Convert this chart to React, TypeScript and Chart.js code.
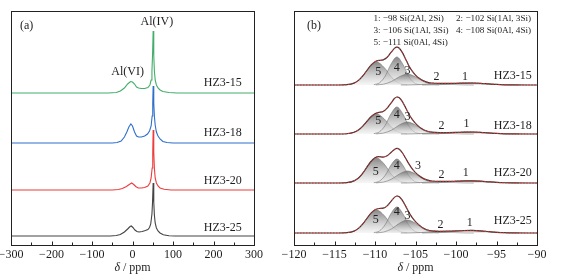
import React, { useEffect, useRef } from "react";
import { Chart, registerables } from "chart.js";
Chart.register(...registerables);

type P = [number, number];

const FONT = "'Liberation Serif', 'Times New Roman', serif";

// ---------- Panel (a): 27Al spectra ----------
const alSamples = ["HZ3-15", "HZ3-18", "HZ3-20", "HZ3-25"];
const alColors = ["#43ad69", "#2f6fcc", "#ec3d3d", "#444444"];
const alOffsets = [152, 102, 55, 9];
const alTickValues = [-300, -200, -100, 0, 100, 200, 300];

const alHZ3_15: P[] = [[-300,0],[-60,0],[-40,0.5],[-30,2],[-20,5],[-12,9],[-5,11.5],[0,11],[5,9],[10,6],[15,5],[22,4.5],[30,4.5],[38,5.5],[43,8],[46,13],[48,22],[49.5,38],[51,62],[52.5,38],[54,22],[56,13],[59,8],[63,5],[68,3],[75,1.5],[90,0.5],[110,0],[300,0]];
const alHZ3_18: P[] = [[-300,0],[-50,0],[-38,0.5],[-28,2],[-20,6],[-14,11],[-9,16],[-4,19],[0,17],[5,11],[10,7],[15,6],[22,6],[30,7],[37,9],[42,12],[46,17],[48.5,27],[50,40],[51,57],[52.5,40],[54,27],[56,18],[59,11],[63,7],[68,4],[75,1.5],[85,0.5],[100,0],[300,0]];
const alHZ3_20: P[] = [[-300,0],[-50,0],[-35,0.5],[-25,1.5],[-15,3.5],[-8,5.5],[-2,7],[3,5.5],[8,3.5],[14,2],[22,2],[30,2.5],[38,4],[43,7],[46,12],[48.5,22],[50,38],[51,60],[52.5,38],[54,22],[56,12],[59,7],[63,4],[68,2],[78,0.7],[95,0],[300,0]];
const alHZ3_25: P[] = [[-300,0],[-55,0],[-40,0.5],[-30,1.5],[-20,4],[-12,7],[-6,9.5],[-3,10],[1,8.5],[6,6],[11,4.5],[16,4],[24,4.5],[32,5.5],[38,6.5],[42,8.5],[45,12],[48,22],[49.5,34],[51,53],[52.5,34],[54,21],[56,13],[59,8],[63,5],[68,3],[76,1.2],[90,0.3],[105,0],[300,0]];
const alSeries = [alHZ3_15, alHZ3_18, alHZ3_20, alHZ3_25];

// ---------- Panel (b): 29Si spectra ----------
const siSamples = ["HZ3-15", "HZ3-18", "HZ3-20", "HZ3-25"];
const siOffsets = [160, 111, 62, 12];
const siTickValues = [-120, -115, -110, -105, -100, -95, -90];
const siLegend = [
  "1: \u221298 Si(2Al, 2Si)", "2: \u2212102 Si(1Al, 3Si)",
  "3: \u2212106 Si(1Al, 3Si)", "4: \u2212108 Si(0Al, 4Si)",
  "5: \u2212111 Si(0Al, 4Si)",
];

const siEnvX = [-120,-114.5,-113.5,-112.6,-112,-111.5,-111,-110.5,-110,-109.5,-109,-108.5,-108,-107.6,-107.3,-107,-106.6,-106.2,-105.8,-105.4,-105,-104.5,-104,-103.5,-103,-102,-101,-100,-99,-98,-97,-96,-95,-94,-93,-90];
const siEnvHZ3_15 = [0,0,0.3,1.9,4.9,9.1,14.5,19.8,23.3,24.6,25.1,27.7,32.8,36.6,37.8,36.7,32.1,25.6,19.0,13.8,9.9,6.5,4.1,2.7,2.0,1.6,1.6,1.7,1.95,2.0,1.67,1.1,0.56,0.22,0.07,0];
const siEnvHZ3_18 = [0,0,0.25,1.7,4.3,7.9,12.6,17.2,20.3,21.6,22.5,25.8,31.2,35.5,37.0,36.3,32.1,26.0,19.7,14.6,10.6,6.9,4.3,2.7,1.8,1.4,1.45,1.6,1.95,2.0,1.67,1.1,0.56,0.22,0.07,0];
const siEnvHZ3_20 = [0,0,0.3,2.1,5.3,9.9,15.8,21.5,25.2,26.3,25.9,27.3,30.7,33.6,34.7,33.8,30.0,24.5,18.9,14.2,10.4,6.9,4.4,2.9,2.0,1.6,1.6,1.8,2.1,2.2,1.84,1.2,0.6,0.24,0.07,0];
const siEnvHZ3_25 = [0,0,0.3,1.9,4.9,9.1,14.5,19.8,23.3,24.5,24.8,27.1,31.9,35.6,37.0,36.3,32.4,26.6,20.4,15.3,11.3,7.6,4.7,3.0,2.2,1.7,1.8,2.1,2.5,2.6,2.2,1.4,0.72,0.29,0.09,0];
const siEnvelopes = [siEnvHZ3_15, siEnvHZ3_18, siEnvHZ3_20, siEnvHZ3_25];

// component x positions (peaks 1..5)
const siC1X = [-104.2,-102.7,-101.2,-99.7,-98.2,-96.7,-95.2,-93.7,-92.2];
const siC2X = [-106.8,-105.68,-104.55,-103.43,-102.3,-101.17,-100.05,-98.92,-97.8];
const siC3X = [-109.9,-108.93,-107.95,-106.98,-106.0,-105.02,-104.05,-103.07,-102.1];
const siC4X = [-110.15,-109.44,-108.73,-108.01,-107.3,-106.59,-105.87,-105.16,-104.45];
const siC5X = [-113.55,-112.61,-111.68,-110.74,-109.8,-108.86,-107.93,-106.99,-106.05];
const siCompX = [siC1X, siC2X, siC3X, siC4X, siC5X];

// component heights: [peak1, peak2, peak3, peak4, peak5] for each sample
const siCompHZ3_15 = [
  [0.02,0.16,0.65,1.51,2,1.51,0.65,0.16,0.02],
  [0.01,0.1,0.39,0.91,1.2,0.91,0.39,0.1,0.01],
  [0.12,0.9,3.6,8.3,11,8.3,3.6,0.9,0.12],
  [0.31,2.2,9.1,21.1,28,21.1,9.1,2.2,0.31],
  [0.25,1.8,7.5,17.4,23,17.4,7.5,1.8,0.25],
];
const siCompHZ3_18 = [
  [0.02,0.16,0.65,1.51,2,1.51,0.65,0.16,0.02],
  [0.01,0.08,0.33,0.76,1.0,0.76,0.33,0.08,0.01],
  [0.13,1.0,3.9,9.1,12,9.1,3.9,1.0,0.13],
  [0.3,2.2,8.8,20.4,27,20.4,8.8,2.2,0.3],
  [0.22,1.6,6.5,15.1,20,15.1,6.5,1.6,0.22],
];
const siCompHZ3_20 = [
  [0.02,0.18,0.72,1.66,2.2,1.66,0.72,0.18,0.02],
  [0.01,0.1,0.39,0.91,1.2,0.91,0.39,0.1,0.01],
  [0.13,1.0,3.9,9.1,12,9.1,3.9,1.0,0.13],
  [0.26,1.9,7.8,18.1,24,18.1,7.8,1.9,0.26],
  [0.28,2.0,8.1,18.9,25,18.9,8.1,2.0,0.28],
];
const siCompHZ3_25 = [
  [0.03,0.21,0.85,1.96,2.6,1.96,0.85,0.21,0.03],
  [0.01,0.1,0.39,0.91,1.2,0.91,0.39,0.1,0.01],
  [0.14,1.0,4.2,9.8,13,9.8,4.2,1.0,0.14],
  [0.29,2.1,8.5,19.6,26,19.6,8.5,2.1,0.29],
  [0.25,1.8,7.5,17.4,23,17.4,7.5,1.8,0.25],
];
const siComponents = [siCompHZ3_15, siCompHZ3_18, siCompHZ3_20, siCompHZ3_25];

// peak number label positions [ppm, height above baseline] per sample, for peaks 1..5
const siPeakLabelPos: P[][] = [
  [[-98.9,8],[-102.4,8],[-106.0,14.3],[-107.3,17],[-109.6,13.3]],
  [[-98.7,9.7],[-101.8,8],[-106.0,17.3],[-107.3,19],[-109.6,13.3]],
  [[-98.8,10.3],[-101.8,8],[-104.7,17],[-107.3,17],[-109.9,11.3]],
  [[-98.3,9.7],[-101.9,8],[-106.0,17],[-107.3,21.3],[-109.9,13]],
];
const siSampleLabelY = [9, 8.3, 9.7, 12.3];
const alSampleLabelY = [9.7, 10.3, 9.3, 8.3];

type Txt = { x: number; y: number; text: string; align: CanvasTextAlign; size: number };

function makeOverlay(texts: Txt[], minorStep: number, majorStep: number) {
  return {
    id: "overlay",
    afterDatasetsDraw(chart: any) {
      const { ctx, scales } = chart;
      ctx.save();
      ctx.fillStyle = "#1e1e1e";
      ctx.textBaseline = "middle";
      for (const t of texts) {
        ctx.font = `${t.size}px ${FONT}`;
        ctx.textAlign = t.align;
        ctx.fillText(t.text, scales.x.getPixelForValue(t.x), scales.y.getPixelForValue(t.y));
      }
      ctx.restore();
    },
    afterDraw(chart: any) {
      const { ctx, chartArea: a, scales } = chart;
      ctx.save();
      ctx.strokeStyle = "#222";
      ctx.lineWidth = 1;
      const l = Math.round(a.left) + 0.5, t = Math.round(a.top) + 0.5;
      const r = Math.round(a.right) + 0.5, b = Math.round(a.bottom) + 0.5;
      ctx.strokeRect(l, t, r - l, b - t);
      const x = scales.x;
      ctx.beginPath();
      for (let v = x.min; v <= x.max + 1e-9; v += minorStep) {
        const px = Math.round(x.getPixelForValue(v)) + 0.5;
        const major = Math.abs(v / majorStep - Math.round(v / majorStep)) < 1e-6;
        ctx.moveTo(px, b);
        ctx.lineTo(px, b - (major ? 4 : 3));
      }
      ctx.stroke();
      // axis title: italic delta + " / ppm"
      ctx.fillStyle = "#1e1e1e";
      ctx.textBaseline = "middle";
      ctx.textAlign = "left";
      ctx.font = `italic 12px ${FONT}`;
      const w1 = ctx.measureText("\u03b4").width;
      ctx.font = `12px ${FONT}`;
      const w2 = ctx.measureText(" / ppm").width;
      const cx = (a.left + a.right) / 2 - (w1 + w2) / 2;
      ctx.font = `italic 12px ${FONT}`;
      ctx.fillText("\u03b4", cx, 268);
      ctx.font = `12px ${FONT}`;
      ctx.fillText(" / ppm", cx + w1, 268);
      ctx.restore();
    },
  };
}

const minus = (v: any) => String(v).replace("-", "\u2212");

function xScale(min: number, max: number, tickValues: number[]) {
  return {
    type: "linear",
    min,
    max,
    grid: { display: false, drawTicks: false },
    border: { display: false },
    ticks: { font: { family: FONT, size: 12 }, color: "#1e1e1e", padding: 3, autoSkip: false, maxRotation: 0, callback: minus },
    afterBuildTicks: (s: any) => { s.ticks = tickValues.map((v) => ({ value: v })); },
    afterFit: (s: any) => { s.height = 35; s.paddingLeft = 0; s.paddingRight = 0; },
  };
}

export default function App() {
  const refA = useRef<HTMLCanvasElement>(null);
  const refB = useRef<HTMLCanvasElement>(null);

  useEffect(() => {
    // Panel (a)
    const textsA: Txt[] = [
      { x: -278, y: 219, text: "(a)", align: "left", size: 12 },
      { x: 60, y: 223.3, text: "Al(IV)", align: "center", size: 12 },
      { x: -12, y: 173.3, text: "Al(VI)", align: "center", size: 12 },
      ...alSamples.map((s, i) => ({ x: 270, y: alOffsets[i] + alSampleLabelY[i], text: s, align: "right" as CanvasTextAlign, size: 12 })),
    ];
    const chartA = new Chart(refA.current as HTMLCanvasElement, {
      type: "line",
      data: {
        datasets: alSeries.map((pts, i) => ({
          label: alSamples[i],
          data: pts.map(([x, y]) => ({ x, y: y + alOffsets[i] })),
          borderColor: alColors[i],
          borderWidth: 1.1,
          pointRadius: 0,
          tension: 0,
          fill: false,
        })),
      },
      options: {
        responsive: false,
        animation: false,
        devicePixelRatio: 1,
        layout: { padding: { left: 11, top: 11, right: 26, bottom: 0 } },
        plugins: { legend: { display: false }, tooltip: { enabled: false } },
        scales: {
          x: xScale(-300, 300, alTickValues) as any,
          y: { display: false, min: 0, max: 234 },
        },
      },
      plugins: [makeOverlay(textsA, 50, 100)],
    });

    // Panel (b)
    const LS = 9.2;
    const textsB: Txt[] = [
      { x: -118.4, y: 219, text: "(b)", align: "left", size: 12 },
      { x: -110.2, y: 226, text: siLegend[0], align: "left", size: LS },
      { x: -100.0, y: 226, text: siLegend[1], align: "left", size: LS },
      { x: -110.2, y: 214, text: siLegend[2], align: "left", size: LS },
      { x: -100.0, y: 214, text: siLegend[3], align: "left", size: LS },
      { x: -110.2, y: 202, text: siLegend[4], align: "left", size: LS },
    ];
    siSamples.forEach((s, i) => {
      textsB.push({ x: -90.65, y: siOffsets[i] + siSampleLabelY[i], text: s, align: "right", size: 12 });
      siPeakLabelPos[i].forEach(([x, y], k) => {
        textsB.push({ x, y: siOffsets[i] + y, text: String(k + 1), align: "center", size: 12 });
      });
    });

    const dsB: any[] = [];
    siSamples.forEach((s, i) => {
      const off = siOffsets[i];
      siComponents[i].forEach((hs, k) => {
        const peak = Math.max(...hs);
        dsB.push({
          label: `${s} peak ${k + 1}`,
          data: siCompX[k].map((x, j) => ({ x, y: hs[j] + off })),
          borderColor: "rgba(120,120,120,0.9)",
          borderWidth: 0.7,
          pointRadius: 0,
          cubicInterpolationMode: "monotone",
          fill: { value: off },
          backgroundColor: (c: any) => {
            const ch = c.chart;
            if (!ch.chartArea) return "rgba(160,160,160,0.5)";
            const ys = ch.scales.y;
            const top = ys.getPixelForValue(off + peak);
            const bot = ys.getPixelForValue(off);
            const g = ch.ctx.createLinearGradient(0, top, 0, bot);
            g.addColorStop(0, "rgba(105,105,105,0.8)");
            g.addColorStop(1, "rgba(238,238,238,0.5)");
            return g;
          },
          order: 3,
        });
      });
      const env = siEnvelopes[i].map((y, j) => ({ x: siEnvX[j], y: y + off }));
      dsB.push({
        label: `${s} experimental`,
        data: env,
        borderColor: "#3a3a3a",
        borderWidth: 1.2,
        pointRadius: 0,
        cubicInterpolationMode: "monotone",
        fill: false,
        order: 2,
      });
      dsB.push({
        label: `${s} fit`,
        data: env,
        borderColor: "#ee2a26",
        borderWidth: 1,
        borderDash: [1.5, 1.5],
        pointRadius: 0,
        cubicInterpolationMode: "monotone",
        fill: false,
        order: 1,
      });
    });

    const chartB = new Chart(refB.current as HTMLCanvasElement, {
      type: "line",
      data: { datasets: dsB },
      options: {
        responsive: false,
        animation: false,
        devicePixelRatio: 1,
        layout: { padding: { left: 14, top: 11, right: 51, bottom: 0 } },
        plugins: { legend: { display: false }, tooltip: { enabled: false } },
        scales: {
          x: xScale(-120, -90, siTickValues) as any,
          y: { display: false, min: 0, max: 234 },
        },
      },
      plugins: [makeOverlay(textsB, 2.5, 5)],
    });

    return () => {
      chartA.destroy();
      chartB.destroy();
    };
  }, []);

  return (
    <div style={{ position: "fixed", left: 0, top: 0, width: 588, height: 280, background: "#fff" }}>
      <canvas ref={refA} width={280} height={280} style={{ position: "absolute", left: 0, top: 0, width: 280, height: 280 }} />
      <canvas ref={refB} width={308} height={280} style={{ position: "absolute", left: 280, top: 0, width: 308, height: 280 }} />
    </div>
  );
}
